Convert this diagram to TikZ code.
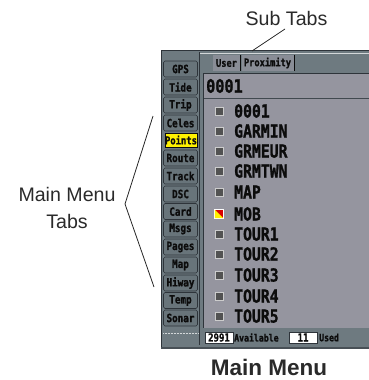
\documentclass[tikz,border=0pt]{standalone}
\usepackage{fontspec}
\setmainfont{Liberation Sans}
\newfontfamily\lcdbase[FakeStretch=0.82,FakeBold=1.2]{DejaVu Sans Mono}
\newcommand{\lcd}{\lcdbase\bfseries}
\definecolor{bezel}{HTML}{6E7A80}
\definecolor{tabc}{HTML}{68747A}
\definecolor{lcdg}{HTML}{95959F}
\definecolor{edge}{HTML}{2E343A}
\definecolor{ink}{HTML}{0C0C0C}
\definecolor{lab}{HTML}{2A2A2A}
\tikzset{
 tabn/.style={draw=edge,line width=.6pt,fill=tabc,rounded corners=1.5pt,minimum width=34pt,minimum height=16pt,inner sep=0pt,font=\lcd\fontsize{11.3pt}{12pt}\selectfont,text=ink},
 ptn/.style={tabn,fill=yellow,draw=ink,minimum width=32pt,minimum height=14pt,rounded corners=0pt,font=\lcd\fontsize{10.8pt}{12pt}\selectfont},
 row/.style={anchor=west,inner sep=0pt,font=\lcd\fontsize{18pt}{19pt}\selectfont,text=ink},
 ico/.style={draw=white!80!black,line width=.8pt,fill=black!68,minimum size=8pt,inner sep=0pt},
 sub/.style={fill=lcdg!70!bezel,minimum height=16pt,inner sep=0pt,font=\lcd\fontsize{10.6pt}{12pt}\selectfont,text=ink},
 callout/.style={draw=black!85,line width=.8pt},
 lbl/.style={font=\fontsize{19.6pt}{27pt}\selectfont,text=lab,align=center,inner sep=0pt},
 stat/.style={anchor=west,inner sep=0pt,font=\lcd\fontsize{10pt}{11pt}\selectfont,text=ink},
 statbox/.style={fill=white,minimum height=10.5pt,inner sep=0pt,font=\lcd\fontsize{11pt}{11pt}\selectfont,text=ink,draw=edge,line width=.5pt}
}
\begin{document}
\begin{tikzpicture}[x=1pt,y=-1pt]
\useasboundingbox (0,0) rectangle (369,380);
% device
\fill[bezel] (161,50) rectangle (369,348);
\draw[edge,line width=.8pt] (369,50.4) -- (161.4,50.4) -- (161.4,348);
\fill[edge!60!bezel] (161,347) rectangle (369,348.5);
\draw[edge,line width=.6pt] (199,52) -- (199,345);
\draw[white!70!bezel,line width=.4pt] (200,53) -- (369,53);
% tabs
\node[tabn] (t1) at (180.5,69) {GPS};
\node[tabn] (t2) at (180.5,87) {Tide};
\node[tabn] (t3) at (180.5,105) {Trip};
\node[tabn] (t4) at (180.5,123) {Celes};
\node[ptn] (t5) at (181,140) {Points};
\node[tabn] (t6) at (180.5,158) {Route};
\node[tabn] (t7) at (180.5,176) {Track};
\node[tabn] (t8) at (180.5,194) {DSC};
\node[tabn] (t9) at (180.5,211.5) {Card};
\node[tabn] (t10) at (180.5,229) {Msgs};
\node[tabn] (t11) at (180.5,247) {Pages};
\node[tabn] (t12) at (180.5,265) {Map};
\node[tabn] (t13) at (180.5,283) {Hiway};
\node[tabn] (t14) at (180.5,300.5) {Temp};
\node[tabn] (t15) at (180.5,318) {Sonar};
\draw[white!70!bezel,line width=.5pt,densely dotted] (163,333) -- (198,333);
% sub tabs
\node[sub,minimum width=27pt] (st1) at (226.5,63) {User};
\node[sub,minimum width=52pt] (st2) at (267.5,63) {Proximity};
\draw[ink,line width=.7pt] (240.5,55) -- (240.5,71) (294,55) -- (294,71);
% fields
\fill[lcdg] (203,74) rectangle (369,328);
\draw[edge,line width=1.2pt] (369,73.5) -- (203.5,73.5) -- (203.5,328);
\draw[edge!70!bezel,line width=1.3pt] (204,98.5) -- (369,98.5);
\node[row,font=\lcd\fontsize{18.5pt}{19pt}\selectfont] (fld) at (206,86) {0001};
% list
\foreach \nm/\yy/\tx in {a/111/0001,b/131/GARMIN,c/151/GRMEUR,d/171/GRMTWN,e/192/MAP,g/234/TOUR1,h/254/TOUR2,i/275/TOUR3,j/296/TOUR4,k/316/TOUR5}{
 \node[ico] (i\nm) at (219,\yy) {};
 \node[row] (r\nm) at (234,\yy) {\tx};
}
\node[row] (rf) at (234,214) {MOB};
\node[draw=white,line width=.7pt,fill=red!85!black,minimum size=9pt,inner sep=0pt] (if) at (219,214) {};
\fill[yellow] (214.8,209.8) -- (214.8,218.2) -- (223.2,218.2) -- cycle;
% status
\node[statbox,minimum width=28pt] (av) at (219,337.5) {2991};
\node[stat] (avl) at (234,337.5) {Available};
\node[statbox,minimum width=28pt] (us) at (303,337.5) {11};
\node[stat] (usl) at (319,337.5) {Used};
% labels
\node[lbl] (subtabs) at (286.5,18) {Sub Tabs};
\node[lbl] (mmt) at (67,207.5) {Main Menu\\Tabs};
\node[font=\bfseries\fontsize{22.5pt}{23pt}\selectfont,text=lab,inner sep=0pt,anchor=base] (cap) at (269,375.5) {Main Menu};
% callouts
\coordinate (sa) at (285,29);
\coordinate (sb) at (252,51);
\draw[callout] (sa) -- (sb);
\coordinate (mm) at (125,204);
\coordinate (ca) at (153,116);
\coordinate (cb) at (154,287);
\draw[callout] (ca) -- (mm) -- (cb);
\end{tikzpicture}
\end{document}
